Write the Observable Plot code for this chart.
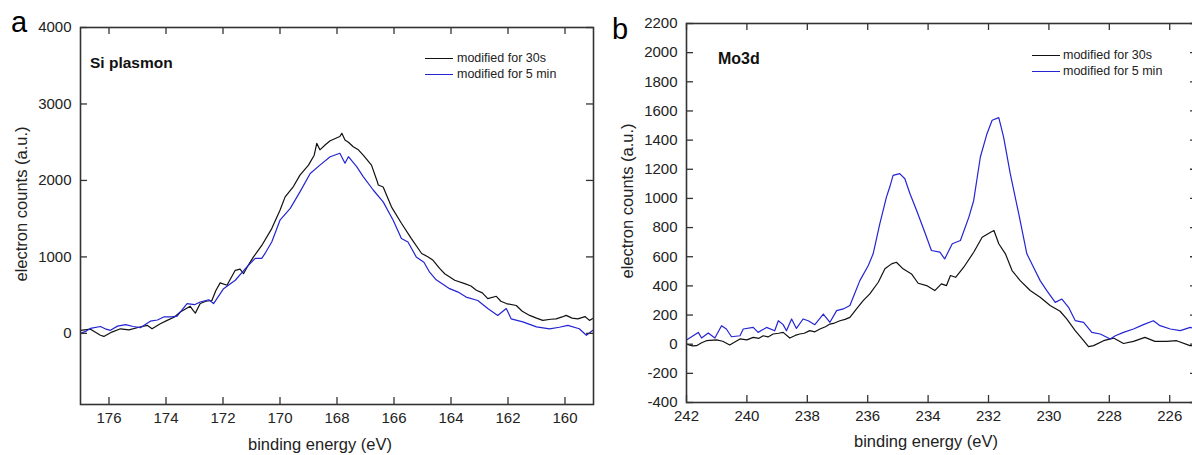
<!DOCTYPE html>
<html><head><meta charset="utf-8">
<script src="https://cdn.jsdelivr.net/npm/d3@7"></script>
<script src="https://cdn.jsdelivr.net/npm/@observablehq/plot@0.6"></script>
<style>
body{margin:0;background:#fff;}
#wrap{position:relative;width:1192px;height:455px;overflow:hidden;font-family:"Liberation Sans",Arial,sans-serif;color:#222;}
.abs{position:absolute;white-space:nowrap;line-height:1;}
.svgbox{position:absolute;top:0;}
.lg{position:absolute;height:0;}
</style></head><body><div id="wrap"></div>
<script>
// ---- Panel a: Si plasmon ----
const siE30 = [177.0,176.65,176.3,176.18,175.9,175.6,175.3,174.95,174.66,174.49,174.2,173.96,173.7,173.5,173.15,173.05,172.97,172.8,172.6,172.39,172.25,172.1,171.86,171.57,171.4,171.28,171.1,170.93,170.64,170.29,170.0,169.82,169.53,169.3,169.0,168.8,168.71,168.6,168.4,168.24,167.9,167.83,167.72,167.6,167.43,167.25,167.08,166.79,166.6,166.55,166.38,166.09,165.74,165.39,165.03,164.8,164.63,164.4,164.22,163.87,163.52,163.3,163.11,162.9,162.71,162.41,162.25,162.06,161.71,161.5,161.24,161.0,160.78,160.5,160.31,160.1,159.96,159.75,159.55,159.3,159.14,159.0];
const siC30 = [40,55,-25,-40,17,60,45,80,105,60,127,170,215,280,355,300,265,390,420,430,560,660,630,825,840,780,900,1000,1150,1370,1610,1785,1920,2070,2200,2330,2485,2400,2470,2520,2575,2617,2530,2500,2440,2400,2330,2200,2000,1940,1915,1655,1440,1240,1045,1000,955,850,780,695,650,620,565,530,455,485,420,390,365,290,235,200,170,185,190,215,235,200,190,220,170,200];
const siE5 = [177.0,176.8,176.65,176.3,176.1,175.95,175.7,175.42,175.15,174.9,174.55,174.3,174.08,173.8,173.61,173.45,173.26,173.0,172.8,172.5,172.33,171.98,171.57,171.16,170.87,170.64,170.5,170.29,170.0,169.64,169.3,168.94,168.6,168.24,167.9,167.72,167.6,167.31,167.08,166.73,166.38,166.03,165.74,165.51,165.22,164.95,164.75,164.52,164.05,163.75,163.47,163.06,162.71,162.36,162.06,161.89,161.48,161.0,160.54,160.2,159.9,159.5,159.25,159.02];
const siC5 = [0,30,65,90,55,40,95,115,90,75,160,175,215,215,225,300,390,375,410,440,390,585,695,870,980,980,1060,1195,1480,1635,1850,2090,2200,2310,2355,2225,2310,2180,2050,1875,1720,1480,1240,1195,1000,930,800,700,585,540,475,430,325,235,325,190,150,85,60,80,105,60,-25,40];
const siXTicks = [176,174,172,170,168,166,164,162,160];
const siYTicks = [0,1000,2000,3000,4000];

// ---- Panel b: Mo3d ----
const moE30 = [242.0,241.8,241.67,241.5,241.34,241.0,240.8,240.57,240.4,240.23,240.0,239.79,239.6,239.46,239.3,239.13,238.95,238.8,238.58,238.4,238.25,238.1,237.92,237.75,237.58,237.4,237.25,237.1,236.92,236.75,236.59,236.37,236.15,235.93,235.65,235.43,235.21,235.05,234.83,234.55,234.33,234.05,233.78,233.56,233.39,233.26,233.09,232.82,232.49,232.21,231.93,231.82,231.66,231.44,231.22,230.95,230.62,230.29,229.96,229.63,229.41,229.13,228.85,228.69,228.52,228.19,227.86,227.53,227.2,226.82,226.49,226.1,225.77,225.33,225.0];
const moC30 = [0,-12,-10,10,24,30,20,-5,15,36,30,47,40,58,50,70,75,81,42,60,70,75,93,85,104,120,138,145,161,170,184,242,299,345,425,517,551,562,517,482,418,402,368,414,402,471,459,528,631,734,768,780,689,620,505,436,368,322,265,226,173,93,24,-17,-10,24,42,5,19,47,19,19,24,-10,-10];
const moE5 = [242.0,241.78,241.61,241.5,241.28,241.06,240.84,240.68,240.51,240.23,240.12,239.79,239.63,239.35,239.08,238.96,238.8,238.69,238.52,238.36,238.14,237.97,237.75,237.47,237.25,237.03,236.81,236.59,236.48,236.26,235.98,235.82,235.6,235.38,235.27,235.16,234.94,234.77,234.6,234.38,234.11,233.89,233.61,233.45,233.2,232.93,232.65,232.49,232.27,232.05,231.88,231.66,231.5,231.28,231.0,230.73,230.51,230.29,230.07,229.79,229.57,229.35,229.13,228.85,228.58,228.3,227.97,227.8,227.53,227.2,226.87,226.54,226.32,225.98,225.65,225.32,225.0];
const moC5 = [29,58,81,42,77,42,127,104,51,58,104,115,81,115,92,161,134,92,173,108,173,161,134,207,150,230,242,265,322,436,540,620,826,1009,1078,1158,1170,1135,1032,917,768,643,631,585,689,711,872,986,1284,1444,1536,1554,1421,1170,895,620,528,436,368,287,310,253,162,150,81,70,36,58,81,104,134,161,127,104,93,115,100];
const moXTicks = [242,240,238,236,234,232,230,228,226];
const moYTicks = [-400,-200,0,200,400,600,800,1000,1200,1400,1600,1800,2000,2200];

const seriesNames = ["modified for 30s","modified for 5 min"];
const seriesColors = ["#111111","#2424d4"];

const FONT = '"Liberation Sans", Arial, sans-serif';
const H = 455;

function panel({width, mL, mR, mT, mB, xDom, yDom, xTicks, yTicks, series}) {
  const fw = width - mL - mR, fh = H - mT - mB, T = 7;
  const tk = {stroke: "#333", strokeWidth: 1.3};
  return Plot.plot({
    width, height: H, marginLeft: mL, marginRight: mR, marginTop: mT, marginBottom: mB,
    x: {domain: xDom, axis: null},
    y: {domain: yDom, axis: null},
    style: {fontFamily: FONT, color: "#222", background: "transparent", overflow: "visible"},
    marks: [
      ...series.map(s => Plot.line(s.e, {x: s.e, y: s.c, stroke: s.color, strokeWidth: 1.2, clip: true})),
      Plot.tickX(xTicks, {insetTop: fh - T, ...tk}),
      Plot.tickX(xTicks, {insetBottom: fh - T, ...tk}),
      Plot.tickY(yTicks, {insetRight: fw - T, ...tk}),
      Plot.tickY(yTicks, {insetLeft: fw - T, ...tk}),
      Plot.frame({stroke: "#333", strokeWidth: 1.6}),
      Plot.axisX(xTicks, {anchor: "bottom", tickSize: 0, tickPadding: 8, fontSize: 15, tickFormat: d => String(d), label: null}),
      Plot.axisY(yTicks, {anchor: "left", tickSize: 0, tickPadding: 9, fontSize: 15, tickFormat: d => String(d), label: null})
    ]
  });
}

const wrap = document.getElementById("wrap");
function place(node, left, width) {
  const d = document.createElement("div");
  d.className = "svgbox";
  d.style.left = left + "px";
  d.style.width = width + "px";
  d.appendChild(node);
  wrap.appendChild(d);
}

place(panel({
  width: 600, mL: 80, mR: 7, mT: 27, mB: 51,
  xDom: [177, 159], yDom: [-930, 4000],
  xTicks: siXTicks, yTicks: siYTicks,
  series: [{e: siE30, c: siC30, color: seriesColors[0]}, {e: siE5, c: siC5, color: seriesColors[1]}]
}), 0, 600);

place(panel({
  width: 604, mL: 86, mR: 7, mT: 23, mB: 53,
  xDom: [242, 225.08], yDom: [-400, 2200],
  xTicks: moXTicks, yTicks: moYTicks,
  series: [{e: moE30, c: moC30, color: seriesColors[0]}, {e: moE5, c: moC5, color: seriesColors[1]}]
}), 600, 604);

// text overlays (baseline-positioned: top = baseline - 0.8465*size)
function text(str, left, baseline, size, extra = {}) {
  const d = document.createElement("div");
  d.className = "abs";
  d.textContent = str;
  d.style.fontSize = size + "px";
  d.style.left = left + "px";
  d.style.top = (baseline - 0.8465 * size) + "px";
  Object.assign(d.style, extra);
  wrap.appendChild(d);
  return d;
}
function centered(str, cx, baseline, size) {
  return text(str, cx, baseline, size, {transform: "translateX(-50%)"});
}
function ylabel(str, cx, cy, size) {
  const d = document.createElement("div");
  d.className = "abs";
  d.textContent = str;
  d.style.fontSize = size + "px";
  d.style.left = cx + "px";
  d.style.top = cy + "px";
  d.style.transform = "translate(-50%,-50%) rotate(-90deg)";
  wrap.appendChild(d);
}
function legendLine(x1, x2, y, color) {
  const d = document.createElement("div");
  d.className = "lg";
  d.style.left = x1 + "px";
  d.style.width = (x2 - x1) + "px";
  d.style.top = (y - 0.75) + "px";
  d.style.borderTop = "1.5px solid " + color;
  wrap.appendChild(d);
}

// panel letters
text("a", 11, 33, 29, {color: "#000"});
text("b", 612, 40, 29, {color: "#000"});
// panel titles
text("Si plasmon", 90, 68, 15.5, {fontWeight: "bold", color: "#111"});
text("Mo3d", 718, 65, 16, {fontWeight: "bold", color: "#111"});
// axis titles
centered("binding energy (eV)", 320, 450, 16.5);
centered("binding energy (eV)", 926, 447, 16.5);
ylabel("electron counts (a.u.)", 21, 204, 16.5);
ylabel("electron counts (a.u.)", 626.5, 200.5, 16.5);
// legends
[[425, 453, 457, 58.7, 63], [1032, 1060, 1063, 55.7, 60]].forEach(([x1, x2, tx, ly, tb]) => {
  seriesNames.forEach((name, i) => {
    legendLine(x1, x2, ly + 16 * i, seriesColors[i]);
    text(name, tx, tb + 16 * i, 12.5, {color: "#222"});
  });
});
</script>
</body></html>
